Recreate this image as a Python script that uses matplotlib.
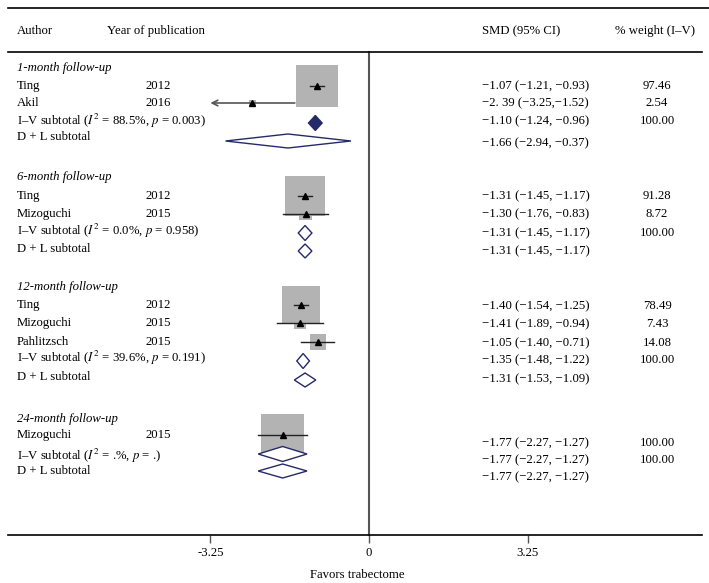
import numpy as np
import matplotlib
matplotlib.use('Agg')
import matplotlib.pyplot as plt
import matplotlib.transforms as mtransforms
from matplotlib.patches import Polygon

plt.rcParams['font.family'] = ['Liberation Serif', 'DejaVu Serif']
plt.rcParams['mathtext.fontset'] = 'stix'
plt.rcParams['axes.unicode_minus'] = False

# Data
groups = ['1-month follow-up', '6-month follow-up', '12-month follow-up', '24-month follow-up']
study_author = ['Ting', 'Akil', 'Ting', 'Mizoguchi', 'Ting', 'Mizoguchi', 'Pahlitzsch', 'Mizoguchi']
study_year = ['2012', '2016', '2012', '2015', '2012', '2015', '2015', '2015']
study_smd = [-1.07, -2.39, -1.31, -1.30, -1.40, -1.41, -1.05, -1.77]
study_lo = [-1.21, -3.25, -1.45, -1.76, -1.54, -1.89, -1.40, -2.27]
study_hi = [-0.93, -1.52, -1.17, -0.83, -1.25, -0.94, -0.71, -1.27]
study_weight = [97.46, 2.54, 91.28, 8.72, 78.49, 7.43, 14.08, 100.00]
study_ci_text = ['−1.07 (−1.21, −0.93)', '−2. 39 (−3.25,−1.52)', '−1.31 (−1.45, −1.17)',
                 '−1.30 (−1.76, −0.83)', '−1.40 (−1.54, −1.25)', '−1.41 (−1.89, −0.94)',
                 '−1.05 (−1.40, −0.71)', '−1.77 (−2.27, −1.27)']
study_arrow = [False, True, False, False, False, False, False, False]

iv_smd = [-1.10, -1.31, -1.35, -1.77]
iv_lo = [-1.24, -1.45, -1.48, -2.27]
iv_hi = [-0.96, -1.17, -1.22, -1.27]
iv_i2 = ['88.5', '0.0', '39.6', '.']
iv_p = ['0.003', '0.958', '0.191', '.']
dl_smd = [-1.66, -1.31, -1.31, -1.77]
dl_lo = [-2.94, -1.45, -1.53, -2.27]
dl_hi = [-0.37, -1.17, -1.09, -1.27]
xticks = [-3.25, 0, 3.25]

# Layout (pixel rows)
group_y = [68, 177, 287, 419]
study_y = [86, 103, 196, 214, 305, 323, 342, 435]
study_ty = [86, 103, 196, 214, 306, 324, 343, 443]
iv_y = [123, 233, 361, 454]
iv_ly = [121, 231, 358, 456]
iv_ry = [121, 233, 360, 460]
dl_y = [141, 251, 380, 471]
dl_ly = [137, 249, 377, 471]
dl_ry = [143, 251, 379, 477]

W, H = 709, 583
x0, scale = 369, 48.8  # pixel of zero, pixels per SMD unit

fig = plt.figure(figsize=(W / 100, H / 100), dpi=100)
ax = fig.add_axes([0, 0, 1, 1])
ax.set_xlim(-x0 / scale, (W - x0) / scale)
ax.set_ylim(H, 0)
tr = mtransforms.blended_transform_factory(ax.transAxes, ax.transData)

fs = 9.2
navy = '#252a68'

def txt(xp, y, s, **kw):
    ax.text(xp / W, y, s, transform=tr, fontsize=fs, va='center', **kw)

# header
txt(17, 31, 'Author')
txt(107, 31, 'Year of publication')
txt(482, 31, 'SMD (95% CI)')
txt(655, 31, '% weight (I–V)', ha='center')
ax.plot([8 / W, 1], [8, 8], transform=tr, color='black', lw=1.2)
ax.plot([8 / W, 702 / W], [52, 52], transform=tr, color='black', lw=1.2)

# reference line at 0
ax.plot([0, 0], [52, 535], color='#555555', lw=1.5, zorder=1)

for g, name in enumerate(groups):
    txt(17, group_y[g], name, style='italic')

# studies
sides = 4.25 * np.sqrt(study_weight) * 0.72
ax.scatter(study_smd, study_y, s=sides ** 2, marker='s', color='#b3b3b3', linewidths=0, zorder=2)
for i in range(len(study_smd)):
    if study_arrow[i]:
        ax.annotate('', xy=(study_lo[i], study_y[i]), xytext=(study_hi[i], study_y[i]),
                    arrowprops=dict(arrowstyle='->', color='#555555', lw=1.2, shrinkA=0, shrinkB=0),
                    zorder=3)
    else:
        ax.plot([study_lo[i], study_hi[i]], [study_y[i], study_y[i]], color='#222222', lw=1.0, zorder=3)
    txt(17, study_y[i], study_author[i])
    txt(145, study_y[i], study_year[i])
    txt(482, study_ty[i], study_ci_text[i])
    txt(657, study_ty[i], '%.2f' % study_weight[i], ha='center')
ax.plot(study_smd, study_y, '^', color='black', ms=4, zorder=4)

# subtotals
def diamond(lo, est, hi, y, h, filled):
    poly = Polygon([[lo, y], [est, y - h], [hi, y], [est, y + h]], closed=True,
                   facecolor=navy if filled else 'white', edgecolor=navy, lw=1.0, zorder=5)
    ax.add_patch(poly)

for g in range(len(groups)):
    diamond(iv_lo[g], iv_smd[g], iv_hi[g], iv_y[g], 7.5, g == 0)
    diamond(dl_lo[g], dl_smd[g], dl_hi[g], dl_y[g], 7, False)
    txt(17, iv_ly[g], 'I–V subtotal ($I^2$ = %s%%, $p$ = %s)' % (iv_i2[g], iv_p[g]))
    txt(17, dl_ly[g], 'D + L subtotal')
    txt(482, iv_ry[g], '−%.2f (−%.2f, −%.2f)' % (-iv_smd[g], -iv_lo[g], -iv_hi[g]))
    txt(657, iv_ry[g], '100.00', ha='center')
    txt(482, dl_ry[g], '−%.2f (−%.2f, −%.2f)' % (-dl_smd[g], -dl_lo[g], -dl_hi[g]))

# x axis
for side in ['top', 'left', 'right']:
    ax.spines[side].set_visible(False)
ax.spines['bottom'].set_position(('data', 535))
ax.spines['bottom'].set_bounds((8 - x0) / scale, (702 - x0) / scale)
ax.spines['bottom'].set_linewidth(1.2)
ax.set_yticks([])
ax.set_xticks(xticks)
ax.set_xticklabels(['-3.25', '0', '3.25'])
ax.tick_params(axis='x', direction='out', length=6, width=1, color='#555555', labelsize=fs, pad=3)
ax.patch.set_visible(False)
txt(357, 575, 'Favors trabectome', ha='center')

fig.savefig('out.png', dpi=100)
